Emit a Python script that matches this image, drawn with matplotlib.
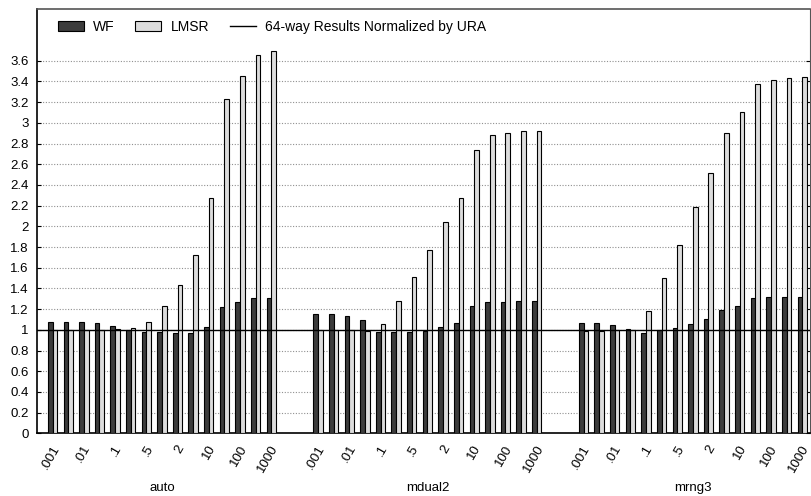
import matplotlib
matplotlib.use("Agg")
import matplotlib.pyplot as plt
from matplotlib.patches import Patch
from matplotlib.lines import Line2D
from matplotlib.transforms import blended_transform_factory, ScaledTranslation
import numpy as np

plt.rcParams['font.family'] = ['Liberation Sans', 'DejaVu Sans']

groups = ["auto", "mdual2", "mrng3"]
tick_labels = [".001", ".01", ".1", ".5", "2", "10", "100", "1000"]

wf_auto = [1.08, 1.08, 1.08, 1.07, 1.04, 1.00, 0.98, 0.98, 0.97, 0.97, 1.03, 1.22, 1.27, 1.31, 1.31]
lmsr_auto = [1.00, 1.00, 1.00, 1.00, 1.01, 1.02, 1.08, 1.23, 1.43, 1.72, 2.27, 3.23, 3.45, 3.66, 3.69]
wf_mdual2 = [1.15, 1.15, 1.13, 1.09, 0.98, 0.98, 0.98, 0.99, 1.03, 1.07, 1.23, 1.27, 1.27, 1.28, 1.28]
lmsr_mdual2 = [1.00, 1.00, 1.00, 0.99, 1.06, 1.28, 1.51, 1.77, 2.04, 2.27, 2.74, 2.88, 2.90, 2.92, 2.92]
wf_mrng3 = [1.07, 1.07, 1.05, 1.01, 0.97, 1.00, 1.02, 1.06, 1.10, 1.19, 1.23, 1.31, 1.32, 1.32, 1.32]
lmsr_mrng3 = [0.99, 0.99, 1.00, 1.00, 1.18, 1.50, 1.82, 2.19, 2.52, 2.90, 3.10, 3.38, 3.41, 3.43, 3.44]
baseline = 1.0

wf_all = [wf_auto, wf_mdual2, wf_mrng3]
lmsr_all = [lmsr_auto, lmsr_mdual2, lmsr_mrng3]

fig = plt.figure(figsize=(8.11, 4.96), dpi=100)
ax = fig.add_axes([37/811, 1 - 433.3/496, (810-37)/811, (433.3-9)/496])

n = len(wf_auto)
gap = 2
bw = 0.3
tick_pos = []
tick_lab = []
centers = []
for g, (wf, lm) in enumerate(zip(wf_all, lmsr_all)):
    start = g * (n + gap)
    xs = np.arange(start, start + n)
    ax.bar(xs - bw/2, wf, width=bw, color='#3c3c3c', edgecolor='black', linewidth=0.8, zorder=3)
    ax.bar(xs + bw/2, lm, width=bw, color='#dcdcdc', edgecolor='black', linewidth=0.8, zorder=3)
    tick_pos.extend(xs[::2])
    tick_lab.extend(tick_labels)
    centers.append(xs.mean())

ax.axhline(baseline, color='black', linewidth=1.0, zorder=4)

ax.set_xlim(-1.0, 48.5)
ax.set_ylim(0, 4.1)
yt = np.round(np.arange(0, 3.61, 0.2), 1)
ax.set_yticks(yt)
ax.set_yticklabels(["%g" % v for v in yt], fontsize=9.5)
ax.yaxis.grid(True, linestyle=(0, (1, 1.5)), color='#909090', linewidth=0.8, zorder=0)
ax.tick_params(axis='y', length=3, direction='in', right=True, pad=6)

ax.set_xticks(tick_pos)
ax.set_xticklabels(tick_lab, rotation=60, ha='right', va='center', rotation_mode='anchor', fontsize=9.5)
ax.tick_params(axis='x', length=0, pad=9)
offset = ScaledTranslation(4/100, 0, fig.dpi_scale_trans)
for lbl in ax.get_xticklabels():
    lbl.set_transform(lbl.get_transform() + offset)

for s in ['left', 'bottom']:
    ax.spines[s].set_color('black')
    ax.spines[s].set_linewidth(1.2)
ax.spines['top'].set_color('#555555')
ax.spines['top'].set_linewidth(1.2)
ax.spines['right'].set_color('#555555')

trans = blended_transform_factory(ax.transData, ax.transAxes)
for c, name in zip(centers, groups):
    ax.text(c, -0.129, name, transform=trans, ha='center', va='center', fontsize=9.5)

handles = [Patch(facecolor='#3c3c3c', edgecolor='black', linewidth=0.8),
           Patch(facecolor='#dcdcdc', edgecolor='black', linewidth=0.8),
           Line2D([0], [0], color='black', linewidth=1.0)]
ax.legend(handles, ["WF", "LMSR", "64-way Results Normalized by URA"], ncol=3,
          loc='center left', bbox_to_anchor=(0.020, 0.9576), borderaxespad=0,
          frameon=False, fontsize=10,
          handlelength=1.87, handleheight=0.72, handletextpad=0.65, columnspacing=1.5)

fig.savefig("out.png", dpi=100)
